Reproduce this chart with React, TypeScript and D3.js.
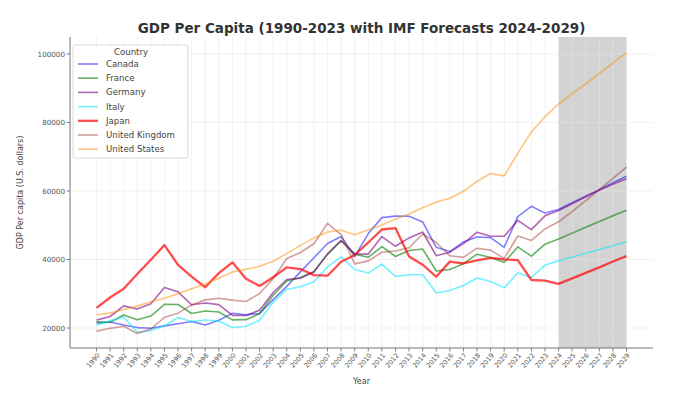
import React from "react";
import * as d3 from "d3";

const years: number[] = d3.range(1990, 2030);
const yTicks: number[] = [20000, 40000, 60000, 80000, 100000];
const forecastStart = 2024;
const forecastEnd = 2029;

const canada: number[] = [21448, 21768, 20879, 20121, 19935, 20614, 21227, 21902, 20863, 22237, 24271, 23822, 24255, 28300, 32143, 36382, 40504, 44659, 46711, 40876, 47562, 52224, 52670, 52635, 50956, 43596, 42316, 45129, 46549, 46374, 43562, 52497, 55522, 53548, 54600, 56600, 58500, 60400, 62400, 64300];
const france: number[] = [21794, 21675, 23813, 22395, 23494, 26890, 26871, 24229, 24974, 24673, 22364, 22433, 24176, 29569, 33742, 34760, 36470, 41508, 45413, 41575, 40638, 43791, 40875, 42603, 43069, 36653, 37063, 38781, 41557, 40578, 39170, 43671, 40964, 44460, 46000, 47700, 49400, 51100, 52800, 54400];
const germany: number[] = [22304, 23357, 26454, 25524, 27099, 31794, 30562, 26787, 27309, 26831, 23695, 23651, 25205, 30359, 34165, 34520, 36354, 41640, 45612, 41650, 41572, 46705, 43856, 46299, 48024, 41103, 42136, 44653, 47974, 46794, 46773, 51426, 48718, 52746, 54300, 56300, 58300, 60200, 62000, 63600];
const italy: number[] = [20826, 22080, 23192, 18745, 19292, 20663, 23079, 21870, 22351, 22030, 20139, 20502, 22265, 27487, 31259, 32043, 33501, 37822, 40779, 37079, 36036, 38650, 35053, 35550, 35565, 30230, 30940, 32407, 34615, 33567, 31711, 36104, 34776, 38373, 39600, 40700, 41800, 42900, 44000, 45200];
const japan: number[] = [25896, 28915, 31465, 35766, 39934, 44198, 38437, 35022, 31903, 36027, 39169, 34406, 32289, 34808, 37689, 37218, 35434, 35275, 39339, 41309, 44968, 48760, 49175, 40898, 38475, 34961, 39375, 38834, 39727, 40458, 40040, 39827, 34017, 33806, 32900, 34500, 36100, 37700, 39400, 41000];
const uk: number[] = [19095, 19900, 20487, 18389, 19709, 23123, 24332, 26734, 28214, 28669, 28150, 27744, 30057, 34419, 40290, 42030, 44599, 50566, 47287, 38713, 39599, 42109, 42497, 43426, 47440, 44964, 41088, 40622, 43306, 42747, 40318, 46870, 45564, 48913, 51000, 54000, 57200, 60400, 63700, 67000];
const us: number[] = [23889, 24342, 25419, 26387, 27695, 28691, 29968, 31459, 32854, 34515, 36330, 37134, 38023, 39496, 41713, 44115, 46299, 48050, 48570, 47195, 48651, 50066, 51784, 53291, 55124, 56763, 57867, 59915, 62805, 65095, 64403, 70996, 77247, 81695, 85400, 88400, 91300, 94300, 97300, 100400];

const countries: string[] = ["Canada", "France", "Germany", "Italy", "Japan", "United Kingdom", "United States"];
const seriesValues: number[][] = [canada, france, germany, italy, japan, uk, us];
const colors: string[] = ["#0000ff", "#008000", "#800080", "#00e5ff", "#ff0000", "#a52a2a", "#ff8c00"];
const opacities: number[] = [0.5, 0.6, 0.6, 0.55, 0.7, 0.45, 0.5];
const widths: number[] = [1.6, 1.6, 1.6, 1.6, 2.3, 1.6, 1.6];

const W = 676, H = 395;
const L = 70, R = 653, T = 37, B = 348;
const FONT = "'DejaVu Sans', sans-serif";

export default function App() {
  const x = d3.scaleLinear().domain([1990 - 1.95, 2029 + 1.95]).range([L, R]);
  const y = d3.scaleLinear().domain([14160, 104960]).range([B, T]);
  const line = d3.line<number>().x((_, i) => x(years[i])).y((v) => y(v));

  return (
    <div style={{ position: "absolute", left: 0, top: 0 }}>
      <svg width={W} height={H} style={{ display: "block", background: "#fff" }} fontFamily={FONT}>
        <rect x={x(forecastStart)} y={T} width={x(forecastEnd) - x(forecastStart)} height={B - T} fill="#808080" opacity={0.35} />
        {years.map((yr) => (
          <line key={"gx" + yr} x1={x(yr)} x2={x(yr)} y1={T} y2={B} stroke="#e6e6e6" strokeOpacity={0.7} strokeWidth={0.8} />
        ))}
        {yTicks.map((t) => (
          <line key={"gy" + t} x1={L} x2={R} y1={y(t)} y2={y(t)} stroke="#e6e6e6" strokeOpacity={0.7} strokeWidth={0.8} />
        ))}
        {seriesValues.map((vals, i) => (
          <path key={countries[i]} d={line(vals) || ""} fill="none" stroke={colors[i]} strokeOpacity={opacities[i]} strokeWidth={widths[i]} strokeLinejoin="round" />
        ))}
        <line x1={L} x2={L} y1={T} y2={B} stroke="#666" strokeWidth={0.9} />
        <line x1={L} x2={R} y1={B} y2={B} stroke="#666" strokeWidth={0.9} />
        {yTicks.map((t) => (
          <g key={"yt" + t}>
            <line x1={L - 3.5} x2={L} y1={y(t)} y2={y(t)} stroke="#666" strokeWidth={0.8} />
            <text x={L - 5} y={y(t)} dy="0.35em" textAnchor="end" fontSize={7.2} fill="#555">{t}</text>
          </g>
        ))}
        {years.map((yr) => (
          <g key={"xt" + yr}>
            <line x1={x(yr)} x2={x(yr)} y1={B} y2={B + 3.5} stroke="#666" strokeWidth={0.8} />
            <text transform={`translate(${x(yr) + 2},${B + 6}) rotate(-50)`} textAnchor="end" dy="0.35em" fontSize={6.6} fill="#555">{yr}</text>
          </g>
        ))}
        <text x={(L + R) / 2} y={384} textAnchor="middle" fontSize={8} fill="#444">Year</text>
        <text transform={`translate(23,${(T + B) / 2}) rotate(-90)`} textAnchor="middle" fontSize={8} fill="#444">GDP Per capita (U.S. dollars)</text>
        <text x={(L + R) / 2} y={33} textAnchor="middle" fontSize={13.5} fontWeight="bold" fill="#333">GDP Per Capita (1990-2023 with IMF Forecasts 2024-2029)</text>
        <g>
          <rect x={73} y={45} width={115} height={113} rx={2} fill="#fff" fillOpacity={0.85} stroke="#d0d0d0" strokeWidth={0.8} />
          <text x={131} y={52} dy="0.35em" textAnchor="middle" fontSize={8.6} fill="#444">Country</text>
          {countries.map((c, i) => (
            <g key={"lg" + c}>
              <line x1={78} x2={98} y1={64 + i * 14.2} y2={64 + i * 14.2} stroke={colors[i]} strokeOpacity={opacities[i]} strokeWidth={widths[i]} />
              <text x={106} y={64 + i * 14.2} dy="0.35em" fontSize={8.6} fill="#444">{c}</text>
            </g>
          ))}
        </g>
      </svg>
    </div>
  );
}
